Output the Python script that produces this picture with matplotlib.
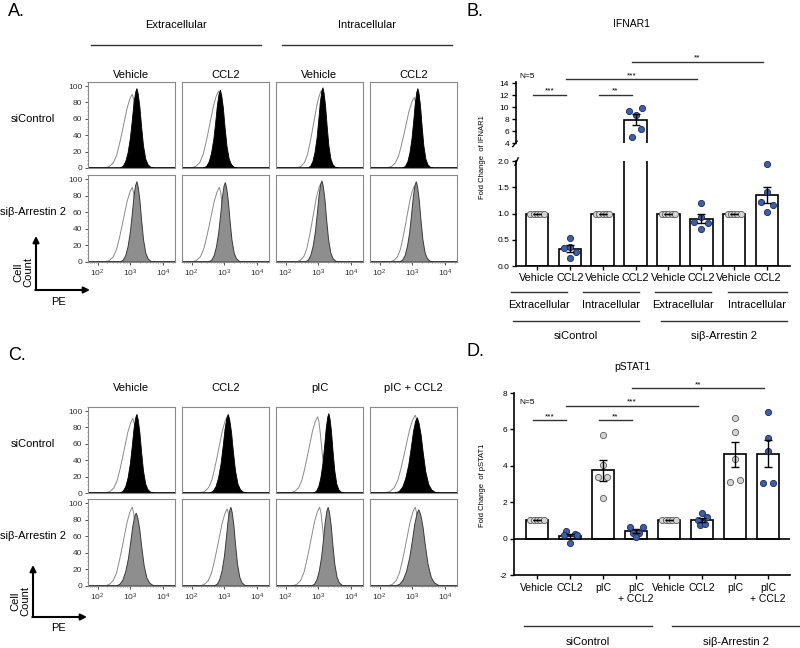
import numpy as np
import matplotlib
matplotlib.use('Agg')
import matplotlib.pyplot as plt
from matplotlib import transforms
from matplotlib.ticker import MultipleLocator, LogLocator, NullFormatter, NullLocator

plt.rcParams['font.family'] = ['Liberation Sans', 'DejaVu Sans']
plt.rcParams['mathtext.fontset'] = 'custom'
plt.rcParams['mathtext.rm'] = 'Liberation Sans'
plt.rcParams['axes.unicode_minus'] = False

# ---------------- flow histograms ----------------
# template shapes: offset from peak (decades), relative height
FILL_DX = [-0.52, -0.42, -0.34, -0.27, -0.20, -0.14, -0.09, -0.04, 0.00, 0.04, 0.09, 0.14, 0.20, 0.27, 0.34, 0.42, 0.52]
FILL_H = [0.00, 0.02, 0.08, 0.19, 0.37, 0.60, 0.81, 0.95, 1.00, 0.93, 0.77, 0.53, 0.28, 0.11, 0.04, 0.01, 0.00]
OPEN_DX = [-0.85, -0.70, -0.58, -0.48, -0.40, -0.32, -0.24, -0.16, -0.08, -0.03, 0.00, 0.04, 0.09, 0.15, 0.22, 0.30, 0.40, 0.50]
OPEN_H = [0.00, 0.02, 0.07, 0.17, 0.31, 0.47, 0.64, 0.81, 0.93, 0.98, 1.00, 0.93, 0.74, 0.47, 0.22, 0.07, 0.01, 0.00]

ROWS = ['siControl', 'siβ-Arrestin 2']
A_COLS = ['Vehicle', 'CCL2', 'Vehicle', 'CCL2']
A_GROUPS = ['Extracellular', 'Intracellular']
C_COLS = ['Vehicle', 'CCL2', 'pIC', 'pIC + CCL2']

# peak position (log10 PE), peak height (%), width scale; [row][column]
A_FILL_PEAK = [[3.20, 2.88, 3.14, 3.17], [3.20, 3.03, 3.11, 3.12]]
A_FILL_HT = [[97, 95, 98, 97], [97, 96, 98, 97]]
A_FILL_W = [[1.0, 1.0, 0.9, 0.9], [1.0, 1.0, 1.0, 1.0]]
A_OPEN_PEAK = [[3.06, 2.83, 3.10, 3.06], [3.06, 2.85, 3.08, 3.07]]
A_OPEN_HT = [[90, 94, 95, 86], [90, 90, 95, 92]]
A_OPEN_W = [[1.0, 1.0, 0.9, 1.0], [1.0, 1.0, 0.9, 0.9]]

C_FILL_PEAK = [[3.20, 3.12, 3.32, 3.15], [3.18, 3.20, 3.30, 3.20]]
C_FILL_HT = [[96, 96, 97, 92], [88, 95, 95, 92]]
C_FILL_W = [[1.0, 1.1, 0.9, 1.3], [1.2, 1.0, 1.0, 1.4]]
C_OPEN_PEAK = [[3.08, 3.10, 2.98, 3.09], [3.06, 3.09, 3.04, 3.09]]
C_OPEN_HT = [[91, 94, 93, 95], [95, 93, 95, 95]]
C_OPEN_W = [[1.0, 1.0, 1.0, 1.1], [1.0, 1.0, 1.0, 1.0]]

# ---------------- bar charts ----------------
B_LABELS = ['Vehicle', 'CCL2', 'Vehicle', 'CCL2', 'Vehicle', 'CCL2', 'Vehicle', 'CCL2']
B_POINTS = [
    [1.0, 1.0, 1.0, 1.0, 1.0],
    [0.53, 0.34, 0.36, 0.27, 0.15],
    [1.0, 1.0, 1.0, 1.0, 1.0],
    [9.4, 8.7, 9.9, 6.4, 5.0],
    [1.0, 1.0, 1.0, 1.0, 1.0],
    [1.20, 0.94, 0.84, 0.82, 0.70],
    [1.0, 1.0, 1.0, 1.0, 1.0],
    [1.94, 1.41, 1.22, 1.16, 1.03],
]
B_SUB = ['Extracellular', 'Intracellular', 'Extracellular', 'Intracellular']
B_SIG = [(0, 1, '***', 12.1), (2, 3, '**', 12.1), (1, 5, '***', 14.7), (3, 7, '**', 17.6)]

D_LABELS = ['Vehicle', 'CCL2', 'pIC', 'pIC\n+ CCL2', 'Vehicle', 'CCL2', 'pIC', 'pIC\n+ CCL2']
D_POINTS = [
    [1.0, 1.0, 1.0, 1.0, 1.0],
    [0.42, 0.20, 0.28, 0.18, -0.26],
    [5.67, 4.06, 3.39, 3.39, 2.22],
    [0.64, 0.64, 0.33, 0.29, 0.11],
    [1.0, 1.0, 1.0, 1.0, 1.0],
    [1.38, 1.03, 1.16, 0.75, 0.79],
    [6.60, 5.87, 4.37, 3.12, 3.21],
    [6.94, 5.52, 4.84, 3.03, 3.03],
]
D_SIG = [(0, 1, '***', 6.5), (2, 3, '**', 6.5), (1, 5, '***', 7.3), (3, 7, '**', 8.25)]

# point x-offsets inside each bar (layout only)
VEH_JIT = [-0.2, -0.1, 0.0, 0.1, 0.2]
B_JIT = [VEH_JIT, [0, -0.17, 0, 0.2, 0], VEH_JIT, [-0.2, 0, 0.2, 0.15, -0.12],
         VEH_JIT, [0, 0, -0.22, 0.19, 0], VEH_JIT, [0, 0, -0.18, 0.19, 0]]
D_JIT = [VEH_JIT, [-0.12, -0.19, 0.15, 0.22, 0], [0, 0, -0.16, 0.13, 0], [-0.18, 0.2, -0.08, 0.1, 0],
         VEH_JIT, [0, -0.13, 0.14, -0.06, 0.08], [0, 0, 0, -0.14, 0.14], [0, 0, 0, -0.14, 0.14]]

BLUE, BLUE_EDGE = '#3d5eab', '#1c2a55'
GREY, GREY_EDGE = '#d5d5d5', '#5a5a5a'

W, H = 800, 648
fig = plt.figure(figsize=(8, 6.48), dpi=100)


def px_axes(x0, y0, x1, y1):
    return fig.add_axes([x0 / W, 1 - y1 / H, (x1 - x0) / W, (y1 - y0) / H])


# overlay in pixel coordinates for labels / decorations
ov = fig.add_axes([0, 0, 1, 1])
ov.set_xlim(0, W)
ov.set_ylim(H, 0)
ov.axis('off')

HIST_X = [(88, 175), (182, 269), (276, 363), (370, 457)]
XLO, XHI = 10 ** 1.71, 10 ** 4.36


def curve(peak, height, width, dx, h):
    x = np.concatenate([[XLO], 10 ** (peak + np.array(dx) * width), [XHI]])
    y = np.concatenate([[0], np.array(h) * height, [0]])
    return x, y


def hist_panel(rows_y, fpk, fht, fw, opk, oht, ow):
    for r, (y0, y1) in enumerate(rows_y):
        for c, (x0, x1) in enumerate(HIST_X):
            ax = px_axes(x0, y0, x1, y1)
            ax.set_facecolor('none')
            xo, yo = curve(opk[r][c], oht[r][c], ow[r][c], OPEN_DX, OPEN_H)
            ax.plot(xo, yo, color='#8a8a8a', lw=0.7, zorder=1)
            xf, yf = curve(fpk[r][c], fht[r][c], fw[r][c], FILL_DX, FILL_H)
            if r == 0:
                ax.fill(xf, yf, fc='black', ec='black', lw=0.6, zorder=2)
            else:
                ax.fill(xf, yf, fc='#8e8e8e', ec='#3a3a3a', lw=0.7, zorder=2)
            ax.set_xscale('log')
            ax.set_xlim(XLO, XHI)
            ax.set_ylim(0, 105)
            for s in ax.spines.values():
                s.set_color('#8a8a8a')
                s.set_linewidth(0.8)
            if c == 0:
                ax.set_yticks([0, 20, 40, 60, 80, 100])
                ax.yaxis.set_minor_locator(MultipleLocator(5))
                ax.tick_params(axis='y', which='major', labelsize=6, length=2,
                               width=0.6, pad=2, colors='#333333')
                ax.tick_params(axis='y', which='minor', length=1, width=0.5, colors='#777777')
            else:
                ax.yaxis.set_major_locator(NullLocator())
                ax.yaxis.set_minor_locator(NullLocator())
            if r == 1:
                ax.set_xticks([1e2, 1e3, 1e4])
                ax.set_xticklabels([r'$\mathregular{10^{2}}$', r'$\mathregular{10^{3}}$',
                                    r'$\mathregular{10^{4}}$'])
                ax.xaxis.set_minor_locator(LogLocator(base=10, subs=np.arange(2, 10)))
                ax.xaxis.set_minor_formatter(NullFormatter())
                ax.tick_params(axis='x', which='major', labelsize=6, length=2,
                               width=0.6, pad=2, colors='#333333')
                ax.tick_params(axis='x', which='minor', length=1, width=0.5, colors='#777777')
            else:
                ax.xaxis.set_major_locator(NullLocator())
                ax.xaxis.set_minor_locator(NullLocator())
        # row label aligned with the 60 tick
        ov.text(33, y1 - (y1 - y0) * 60 / 105, ROWS[r], ha='center', va='center', fontsize=8)


def axis_arrows(cx, cy, top, right, txt_y, pe_y):
    ap = dict(arrowstyle='-|>', lw=1.5, color='black', mutation_scale=9, shrinkA=0, shrinkB=0)
    ov.annotate('', xy=(cx, top), xytext=(cx, cy), arrowprops=ap)
    ov.annotate('', xy=(right, cy), xytext=(cx - 0.7, cy), arrowprops=ap)
    ov.text(cx - 13, txt_y, 'Cell\nCount', rotation=90, ha='center', va='center',
            fontsize=8, linespacing=1.0)
    ov.text(59, pe_y, 'PE', ha='center', va='center', fontsize=8)


# ---- panel A
ov.text(8, 12, 'A.', fontsize=13, ha='left', va='center')
for g, (gx0, gx1) in zip(A_GROUPS, [(91, 261), (282, 452)]):
    ov.text((gx0 + gx1) / 2, 25, g, ha='center', va='center', fontsize=8)
    ov.plot([gx0, gx1], [45, 45], color='#333333', lw=1)
for t, (x0, x1) in zip(A_COLS, HIST_X):
    ov.text((x0 + x1) / 2, 75, t, ha='center', va='center', fontsize=8)
hist_panel([(82, 168), (175, 262)], A_FILL_PEAK, A_FILL_HT, A_FILL_W,
           A_OPEN_PEAK, A_OPEN_HT, A_OPEN_W)
axis_arrows(36, 290, 236, 90, 272, 302)

# ---- panel C
ov.text(8, 356, 'C.', fontsize=13, ha='left', va='center')
for t, (x0, x1) in zip(C_COLS, HIST_X):
    ov.text((x0 + x1) / 2, 388, t, ha='center', va='center', fontsize=8)
hist_panel([(407, 493), (499, 586)], C_FILL_PEAK, C_FILL_HT, C_FILL_W,
           C_OPEN_PEAK, C_OPEN_HT, C_OPEN_W)
axis_arrows(33, 617, 565, 87, 601, 628)


# ---- bar helpers
def draw_bars(ax, points, labels, jit):
    x = np.arange(len(points))
    means = np.array([np.mean(p) for p in points])
    sems = np.array([np.std(p, ddof=1) / np.sqrt(len(p)) for p in points])
    ax.bar(x, means, width=0.69, color='white', edgecolor='black', lw=1.2, zorder=2)
    for i, p in enumerate(points):
        blue = 'CCL2' in labels[i]
        ax.scatter(i + np.array(jit[i]), p, s=20, c=BLUE if blue else GREY,
                   edgecolors=BLUE_EDGE if blue else GREY_EDGE, linewidths=0.6, zorder=3)
    ax.errorbar(x, means, yerr=sems, fmt='none', ecolor='black', elinewidth=1,
                capsize=3, capthick=1, zorder=4)


def sig_lines(ax, sig):
    for i, j, stars, y in sig:
        ax.plot([i - 0.12, j - 0.12], [y, y], color='#333333', lw=1, clip_on=False)
        ax.text((i + j) / 2 - 0.12, y, stars, ha='center', va='bottom', fontsize=6,
                clip_on=False)


def group_lines(ax, spans, names, y_line, y_text):
    tr = transforms.blended_transform_factory(ax.transData, ov.transData)
    for (a, b), n in zip(spans, names):
        ax.plot([a, b], [y_line, y_line], color='#333333', lw=1, transform=tr, clip_on=False)
        ax.text((a + b) / 2, y_text, n, ha='center', va='center', fontsize=8,
                transform=tr, clip_on=False)


# ---- panel B
ov.text(466, 12, 'B.', fontsize=13, ha='left', va='center')
ov.text(632, 24, 'IFNAR1', ha='center', va='center', fontsize=7.5)
axL = px_axes(516, 161, 790, 266)
axU = px_axes(516, 82, 790, 143)
for ax in (axL, axU):
    ax.set_facecolor('none')
    draw_bars(ax, B_POINTS, B_LABELS, B_JIT)
    ax.set_xlim(-0.64, 7.7)
    ax.spines['top'].set_visible(False)
    ax.spines['right'].set_visible(False)
    ax.spines['left'].set_linewidth(1.2)
    ax.spines['bottom'].set_linewidth(1.2)
    ax.tick_params(labelsize=6, length=3, width=1, pad=2)
axL.set_ylim(0, 2.0)
axL.set_yticks([0, 0.5, 1.0, 1.5, 2.0])
axL.set_yticklabels(['0.0', '0.5', '1.0', '1.5', '2.0'])
axL.set_xticks(range(len(B_LABELS)))
axL.set_xticklabels(B_LABELS, fontsize=7.8)
axU.set_ylim(4, 14.2)
axU.set_yticks([4, 6, 8, 10, 12, 14])
axU.spines['bottom'].set_visible(False)
axU.set_xticks([])
# axis break marks
kw = dict(color='black', lw=1, clip_on=False)
axU.plot([-0.012, 0.004], [-0.06, 0.03], transform=axU.transAxes, **kw)
axL.plot([-0.004, 0.008], [0.96, 1.03], transform=axL.transAxes, **kw)
sig_lines(axU, B_SIG)
group_lines(axL, [(-0.8, 0.9), (1.4, 3.1), (3.6, 5.3), (5.8, 7.6)], B_SUB, 292, 305)
group_lines(axL, [(-0.73, 3.1), (3.76, 7.6)], ROWS, 321, 336)
ov.text(519, 77, 'N=5', ha='left', va='center', fontsize=6)
ov.text(483, 157, 'Fold Change  of IFNAR1', rotation=90, ha='center', va='center', fontsize=5.5)

# ---- panel D
ov.text(466, 351, 'D.', fontsize=13, ha='left', va='center')
ov.text(632, 367, 'pSTAT1', ha='center', va='center', fontsize=7.5)
axD = px_axes(514, 393, 790, 575)
axD.set_facecolor('none')
draw_bars(axD, D_POINTS, D_LABELS, D_JIT)
axD.axhline(0, color='black', lw=1.2, zorder=2.5)
axD.set_xlim(-0.7, 7.67)
axD.set_ylim(-2, 8)
axD.set_yticks([-2, 0, 2, 4, 6, 8])
axD.set_xticks(range(len(D_LABELS)))
axD.set_xticklabels(D_LABELS, fontsize=7.5, linespacing=1.1)
axD.spines['top'].set_visible(False)
axD.spines['right'].set_visible(False)
axD.spines['left'].set_linewidth(1.2)
axD.spines['bottom'].set_linewidth(1.2)
axD.tick_params(axis='y', labelsize=6, length=3, width=1, pad=2)
axD.tick_params(axis='x', length=3, width=1, pad=3)
sig_lines(axD, D_SIG)
group_lines(axD, [(-0.39, 3.48), (4.09, 7.97)], ROWS, 626, 642)
ov.text(519, 402, 'N=5', ha='left', va='center', fontsize=6)
ov.text(483, 485, 'Fold Change  of pSTAT1', rotation=90, ha='center', va='center', fontsize=5.5)

fig.savefig('out.png', dpi=100)
